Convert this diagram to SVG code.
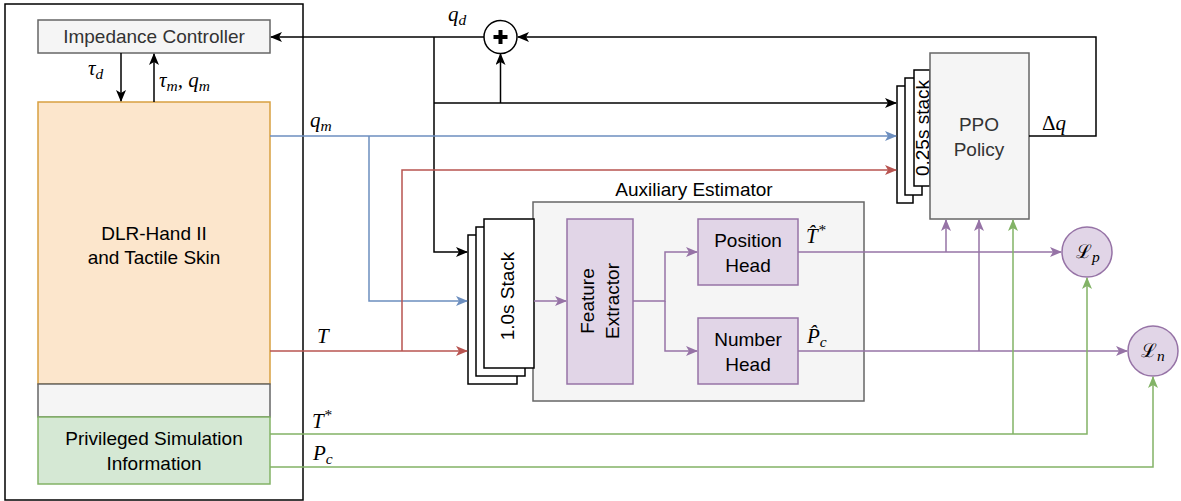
<svg xmlns="http://www.w3.org/2000/svg" width="1181" height="501" viewBox="0 0 1181 501">
<style>
.lbl{font-family:"Liberation Sans",Arial,sans-serif;font-size:19px;fill:#000;text-anchor:middle}
.dk{fill:#333}
.m{font-family:"Liberation Serif","Times New Roman",serif;font-style:italic;font-size:21px;fill:#000}
.s{font-size:15.5px}
.cal{font-family:"DejaVu Serif",serif;font-style:normal;font-size:19px}
.ln{fill:none;stroke-width:1.5}
.k{stroke:#000}
.b{stroke:#6c8ebf}
.r{stroke:#b85450}
.p{stroke:#9673a6}
.g{stroke:#82b366}
.gray{fill:#f5f5f5;stroke:#666;stroke-width:1.5}
.pur{fill:#e1d5e7;stroke:#9673a6;stroke-width:1.5}
.st{fill:#fff;stroke:#000;stroke-width:1.5}
</style>
<defs>
<marker id="ak" viewBox="0 0 12 10" refX="11" refY="5" markerWidth="12" markerHeight="10" markerUnits="userSpaceOnUse" orient="auto"><path d="M0,0 L12,5 L0,10 L3,5 Z" fill="#000"/></marker>
<marker id="ab" viewBox="0 0 12 10" refX="11" refY="5" markerWidth="12" markerHeight="10" markerUnits="userSpaceOnUse" orient="auto"><path d="M0,0 L12,5 L0,10 L3,5 Z" fill="#6c8ebf"/></marker>
<marker id="ar" viewBox="0 0 12 10" refX="11" refY="5" markerWidth="12" markerHeight="10" markerUnits="userSpaceOnUse" orient="auto"><path d="M0,0 L12,5 L0,10 L3,5 Z" fill="#b85450"/></marker>
<marker id="ap" viewBox="0 0 12 10" refX="11" refY="5" markerWidth="12" markerHeight="10" markerUnits="userSpaceOnUse" orient="auto"><path d="M0,0 L12,5 L0,10 L3,5 Z" fill="#9673a6"/></marker>
<marker id="ag" viewBox="0 0 12 10" refX="11" refY="5" markerWidth="12" markerHeight="10" markerUnits="userSpaceOnUse" orient="auto"><path d="M0,0 L12,5 L0,10 L3,5 Z" fill="#82b366"/></marker>
</defs>
<rect width="1181" height="501" fill="#fff"/>

<g id="outer-frame"><rect x="5" y="4" width="298" height="496" fill="none" stroke="#000" stroke-width="1.5"/></g>

<g id="impedance-controller"><rect class="gray" x="38" y="20" width="232" height="33"/><text class="lbl dk" x="154" y="43">Impedance Controller</text></g>

<g id="dlr-hand"><rect x="38" y="102" width="232" height="282" fill="#fce6cc" stroke="#d8a040" stroke-width="1.5"/><text class="lbl" x="154" y="240">DLR-Hand II</text><text class="lbl" x="154" y="264">and Tactile Skin</text></g>

<g id="gap-box"><rect class="gray" x="38" y="384" width="232" height="33"/></g>

<g id="privileged-info"><rect x="38" y="417" width="232" height="67" fill="#d5e8d4" stroke="#82b366" stroke-width="1.5"/><text class="lbl" x="154" y="445">Privileged Simulation</text><text class="lbl" x="154" y="470">Information</text></g>

<g id="sum"><circle cx="500.5" cy="37" r="16.5" fill="#fff" stroke="#000" stroke-width="1.5"/><path d="M493.5,37 H507.5 M500.5,30 V44" stroke="#000" stroke-width="4"/></g>

<g id="ppo-stack"><rect class="st" x="897" y="86" width="16" height="117"/><rect class="st" x="905" y="78" width="17" height="117"/><rect class="st" x="914" y="70" width="16" height="116"/><text class="lbl" transform="translate(929,128) rotate(-90)" x="0" y="0">0.25s stack</text></g>

<g id="ppo-policy"><rect class="gray" x="930" y="53" width="99" height="166"/><text class="lbl dk" x="979" y="131">PPO</text><text class="lbl dk" x="979" y="156">Policy</text></g>

<g id="auxiliary-estimator"><rect class="gray" x="533" y="202" width="331" height="199"/><text class="lbl" x="694" y="196">Auxiliary Estimator</text></g>

<g id="stack-1s"><rect class="st" x="468" y="235" width="49" height="149"/><rect class="st" x="476" y="227" width="49" height="149"/><rect class="st" x="484" y="219" width="50" height="149"/><text class="lbl" transform="translate(514,296) rotate(-90)" x="0" y="0">1.0s Stack</text></g>

<g id="feature-extractor"><rect class="pur" x="567" y="219" width="66" height="165"/><text class="lbl" transform="translate(600,301) rotate(-90)" x="0" y="-6">Feature</text><text class="lbl" transform="translate(600,301) rotate(-90)" x="0" y="19">Extractor</text></g>

<g id="position-head"><rect class="pur" x="698" y="219" width="100" height="66"/><text class="lbl" x="748" y="247">Position</text><text class="lbl" x="748" y="272">Head</text></g>

<g id="number-head"><rect class="pur" x="698" y="318" width="100" height="66"/><text class="lbl" x="748" y="346">Number</text><text class="lbl" x="748" y="371">Head</text></g>

<g id="loss-p"><circle cx="1087" cy="252" r="25" class="pur"/><text class="m cal" x="1076" y="258">ℒ<tspan class="m s" dy="4">p</tspan></text></g>

<g id="loss-n"><circle cx="1153" cy="351" r="25" class="pur"/><text class="m cal" x="1141" y="357">ℒ<tspan class="m s" dy="4">n</tspan></text></g>

<g id="connectors">
<path class="ln k" d="M484,37 H271" marker-end="url(#ak)"/>
<path class="ln k" d="M434,37 V252 H467" marker-end="url(#ak)"/>
<path class="ln k" d="M434,103 H896" marker-end="url(#ak)"/>
<path class="ln k" d="M500.5,103 V54" marker-end="url(#ak)"/>
<path class="ln k" d="M1029,136 H1096 V37 H518" marker-end="url(#ak)"/>
<path class="ln k" d="M121,53 V101" marker-end="url(#ak)"/>
<path class="ln k" d="M154,102 V54" marker-end="url(#ak)"/>
<path class="ln b" d="M270,136 H896" marker-end="url(#ab)"/>
<path class="ln b" d="M369,136 V301 H467" marker-end="url(#ab)"/>
<path class="ln r" d="M270,351 H467" marker-end="url(#ar)"/>
<path class="ln r" d="M402,351 V170 H896" marker-end="url(#ar)"/>
<path class="ln p" d="M534,301 H566" marker-end="url(#ap)"/>
<path class="ln p" d="M633,301 H665 V252 H697" marker-end="url(#ap)"/>
<path class="ln p" d="M665,301 V351 H697" marker-end="url(#ap)"/>
<path class="ln p" d="M798,252 H1061" marker-end="url(#ap)"/>
<path class="ln p" d="M946,252 V220" marker-end="url(#ap)"/>
<path class="ln p" d="M798,351 H1127" marker-end="url(#ap)"/>
<path class="ln p" d="M979,351 V220" marker-end="url(#ap)"/>
<path class="ln g" d="M270,434 H1087 V278" marker-end="url(#ag)"/>
<path class="ln g" d="M1013,434 V220" marker-end="url(#ag)"/>
<path class="ln g" d="M270,467 H1153 V377" marker-end="url(#ag)"/>
</g>

<g id="math-labels">
<text class="m" x="88" y="75">τ<tspan class="s" dy="4">d</tspan></text>
<text class="m" x="159" y="87">τ<tspan class="s" dy="4">m</tspan><tspan dy="-4">, q</tspan><tspan class="s" dy="4">m</tspan></text>
<text class="m" x="448" y="21">q<tspan class="s" dy="4">d</tspan></text>
<text class="m" x="310" y="127">q<tspan class="s" dy="4">m</tspan></text>
<text class="m" x="317" y="343">T</text>
<text class="m" x="312" y="428">T<tspan class="s" dy="-8">*</tspan></text>
<text class="m" x="313" y="460">P<tspan class="s" dy="4">c</tspan></text>
<text class="m" x="806" y="243">T&#x0302;<tspan class="s" dy="-8">*</tspan></text>
<text class="m" x="807" y="343">P&#x0302;<tspan class="s" dy="4">c</tspan></text>
<text class="m" x="1042" y="130" style="font-style:normal">Δ<tspan style="font-style:italic">q</tspan></text>
</g>
</svg>
